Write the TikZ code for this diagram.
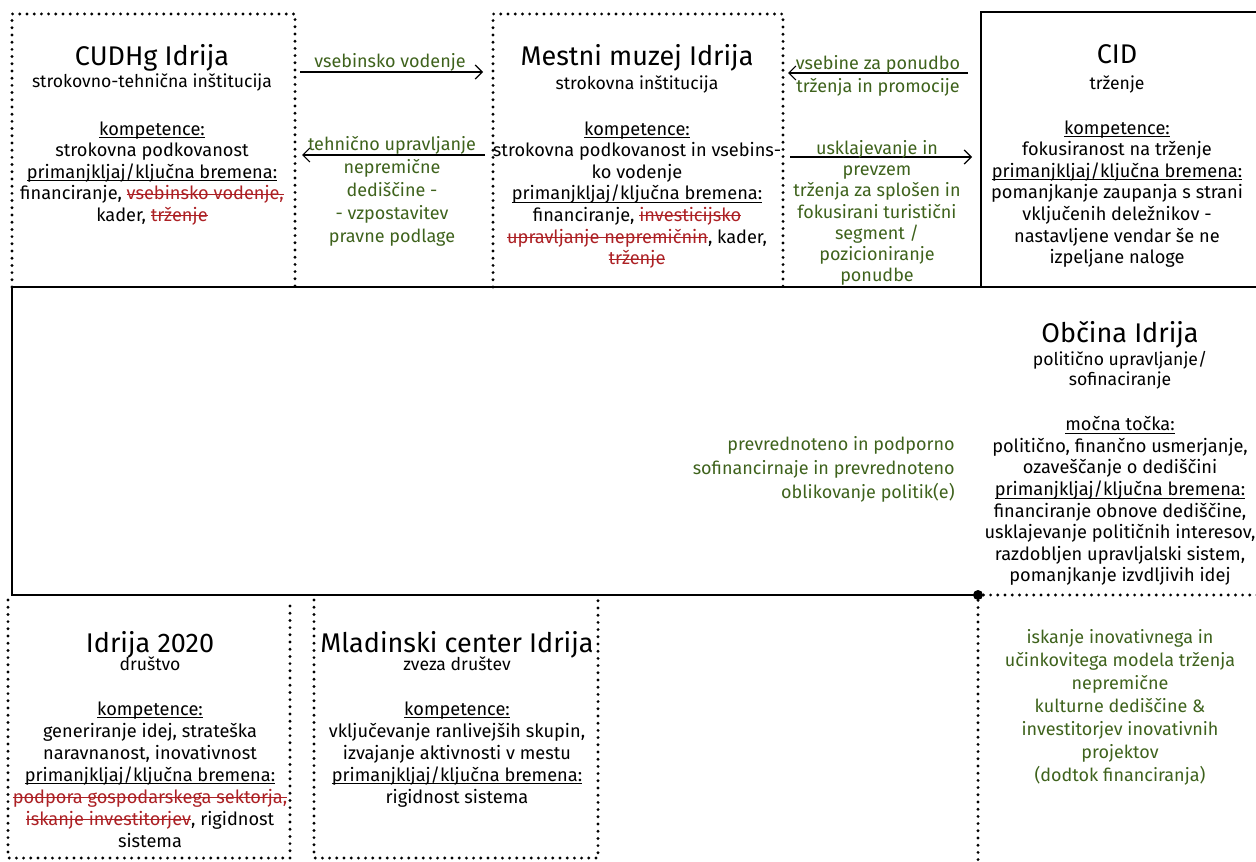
\documentclass[tikz,border=0pt]{standalone}
\usepackage{fontspec}
\setmainfont{Fira Sans}
\usetikzlibrary{arrows.meta}

\definecolor{flowgreen}{RGB}{62,98,28}
\definecolor{crossred}{RGB}{172,32,36}
\newsavebox{\crsbox}
\newcommand{\crs}[1]{\textcolor{crossred}{\sbox{\crsbox}{#1}\rlap{\rule[0.28em]{\wd\crsbox}{0.45pt}}\usebox{\crsbox}}}
\newcommand{\hd}[1]{\sbox{\crsbox}{#1}\rlap{\rule[-0.17em]{\wd\crsbox}{0.5pt}}\usebox{\crsbox}}

\begin{document}
\begin{tikzpicture}[x=0.5pt,y=-0.5pt,
	dotbox/.style={line width=1.6pt, line cap=round, dash pattern=on 0pt off 3.6pt},
	solidbox/.style={line width=1.3pt},
	title/.style={font=\fontsize{13.5}{15}\selectfont, inner sep=0pt, anchor=north},
	sub/.style={font=\fontsize{8.8}{10}\selectfont, align=center, inner sep=0pt, anchor=north},
	body/.style={font=\fontsize{9.1}{10.8}\selectfont, align=center, inner sep=0pt, anchor=north},
	flow/.style={font=\fontsize{9}{11.5}\selectfont, text=flowgreen, align=center, inner sep=0pt, anchor=north},
	arr/.style={-{Straight Barb[length=3.5pt,width=7pt]}, line width=0.6pt}]

	\useasboundingbox (0,0) rectangle (1256,861);

	% boxes
	\draw[dotbox] (12,287) -- (12,14) -- (295,14) -- (295,287);
	\draw[dotbox] (493,287) -- (493,14) -- (783,14) -- (783,287);
	\draw[solidbox] (1262,12) -- (981,12) -- (981,287);
	\node[circle, fill, inner sep=0pt, minimum size=5pt] (jn) at (978,595) {};
	\draw[solidbox] (jn.center) -- (12,595) -- (12,287) -- (1262,287);
	\draw[dotbox] (jn) -- (1262,595);
	\draw[dotbox] (jn) -- (978,861);
	\draw[dotbox] (8,600) -- (8,858) -- (290,858) -- (290,600);
	\draw[dotbox] (314,600) -- (314,858) -- (598,858) -- (598,600);

	% CUDHg
	\node[title] (cudhgT) at (152,44) {CUDHg Idrija};
	\node[sub] (cudhgS) at (152,73) {strokovno-tehnična inštitucija};
	\node[body] (cudhgB) at (152,121) {\hd{kompetence:}\\strokovna podkovanost\\\hd{primanjkljaj/ključna bremena:}\\financiranje, \crs{vsebinsko vodenje,}\\kader, \crs{trženje}};

	% muzej
	\node[title] (muzejT) at (637,44) {Mestni muzej Idrija};
	\node[sub] (muzejS) at (637,75) {strokovna inštitucija};
	\node[body] (muzejB) at (637,121) {\hd{kompetence:}\\strokovna podkovanost in vsebins-\\ko vodenje\\\hd{primanjkljaj/ključna bremena:}\\financiranje, \crs{investicijsko}\\\crs{upravljanje nepremičnin}, kader,\\\crs{trženje}};

	% CID
	\node[title] (cidT) at (1117,44) {CID};
	\node[sub] (cidS) at (1117,75) {trženje};
	\node[body] (cidB) at (1117,120) {\hd{kompetence:}\\fokusiranost na trženje\\\hd{primanjkljaj/ključna bremena:}\\pomanjkanje zaupanja s strani\\vključenih deležnikov -\\nastavljene vendar še ne\\izpeljane naloge};

	% tokovi
	\coordinate (a1s) at (300,72);  \coordinate (a1e) at (483,72);
	\coordinate (a2s) at (485,155); \coordinate (a2e) at (302,155);
	\coordinate (a3s) at (968,73);  \coordinate (a3e) at (788,73);
	\coordinate (a4s) at (790,157); \coordinate (a4e) at (972,157);
	\draw[arr] (a1s) -- (a1e);
	\draw[arr] (a2s) -- (a2e);
	\draw[arr] (a3s) -- (a3e);
	\draw[arr] (a4s) -- (a4e);
	\node[flow] (f1) at (390,53) {vsebinsko vodenje};
	\node[flow] (f2) at (392,136) {tehnično upravljanje\\nepremične\\dediščine -\\- vzpostavitev\\pravne podlage};
	\node[flow] (f3) at (878,55) {vsebine za ponudbo\\trženja in promocije};
	\node[flow, font=\fontsize{9}{10.6}\selectfont] (f4) at (877,140) {usklajevanje in\\prevzem\\trženja za splošen in\\fokusirani turistični\\segment /\\pozicioniranje\\ponudbe};

	% obcina
	\node[title] (obcT) at (1120,321) {Občina Idrija};
	\node[sub] (obcS) at (1120,351) {politično upravljanje/\\sofinaciranje};
	\node[body] (obcB) at (1120,416) {\hd{močna točka:}\\politično, finančno usmerjanje,\\ozaveščanje o dediščini\\\hd{primanjkljaj/ključna bremena:}\\financiranje obnove dediščine,\\usklajevanje političnih interesov,\\razdobljen upravljalski sistem,\\pomanjkanje izvdljivih idej};
	\node[flow, align=right, anchor=north east, font=\fontsize{9}{12}\selectfont] (f5) at (955,436) {prevrednoteno in podporno\\sofinancirnaje in prevrednoteno\\oblikovanje politik(e)};
	\node[flow] (f6) at (1120,629) {iskanje inovativnega in\\učinkovitega modela trženja\\nepremične\\kulturne dediščine \&\\investitorjev inovativnih\\projektov\\(dodtok financiranja)};

	% spodaj
	\node[title] (idrT) at (150,631) {Idrija 2020};
	\node[sub] (idrS) at (150,656) {društvo};
	\node[body, font=\fontsize{9.1}{11}\selectfont] (idrB) at (150,701) {\hd{kompetence:}\\generiranje idej, strateška\\naravnanost, inovativnost\\\hd{primanjkljaj/ključna bremena:}\\\crs{podpora gospodarskega sektorja,}\\\crs{iskanje investitorjev}, rigidnost\\sistema};
	\node[title] (mcT) at (457,631) {Mladinski center Idrija};
	\node[sub] (mcS) at (457,656) {zveza društev};
	\node[body, font=\fontsize{9.1}{11}\selectfont] (mcB) at (457,701) {\hd{kompetence:}\\vključevanje ranlivejših skupin,\\izvajanje aktivnosti v mestu\\\hd{primanjkljaj/ključna bremena:}\\rigidnost sistema};
\end{tikzpicture}
\end{document}
